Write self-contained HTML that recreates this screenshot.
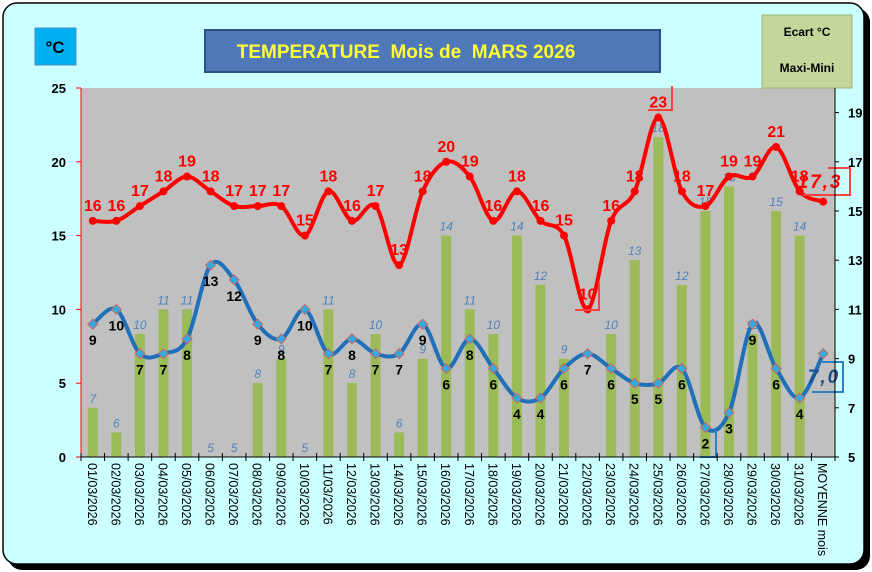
<!DOCTYPE html>
<html><head><meta charset="utf-8"><style>
body{margin:0;background:#fff;}
svg{display:block;font-family:"Liberation Sans",sans-serif;}
</style></head><body>
<svg id="s" width="872" height="572" xmlns="http://www.w3.org/2000/svg">
<rect x="8" y="8" width="862" height="562" rx="14" fill="#000"/>
<rect x="3" y="3" width="861" height="561" rx="14" fill="#ccffff" stroke="#000" stroke-width="1.5"/>
<rect x="81" y="88" width="754" height="369" fill="#c0c0c0"/>
<rect x="35" y="28" width="41" height="37" fill="#00b0f0" stroke="#4a90c0"/>
<text x="55" y="53" font-size="17" font-weight="bold" text-anchor="middle">°C</text>
<rect x="205" y="30" width="455" height="42" fill="#4f78b8" stroke="#2f4f80" stroke-width="2"/>
<text x="406" y="58" font-size="19" font-weight="bold" fill="#ffff33" text-anchor="middle">TEMPERATURE&#160; Mois de&#160; MARS 2026</text>
<rect x="762" y="15" width="90" height="73" fill="#c4d79b" stroke="#a0b070"/>
<text x="807" y="36" font-size="12" font-weight="bold" text-anchor="middle">Ecart °C</text>
<text x="807" y="72" font-size="12" font-weight="bold" text-anchor="middle">Maxi-Mini</text>
<g id="g"></g>
</svg>
<script>
var g=document.getElementById('g'),h='';
var mx=[16,16,17,18,19,18,17,17,17,15,18,16,17,13,18,20,19,16,18,16,15,10,16,18,23,18,17,19,19,21,18,17.3];
var mn=[9,10,7,7,8,13,12,9,8,10,7,8,7,7,9,6,8,6,4,4,6,7,6,5,5,6,2,3,9,6,4,7.0];
var L=81,R=835,B=457,T=88,w=(R-L)/32;
function X(i){return L+w*(i+0.5);}
function YL(v){return B-v*(B-T)/25;}
function YR(v){return B-(v-5)*(B-T)/15;}
for(var i=0;i<31;i++){var e=mx[i]-mn[i];if(e>5){h+='<rect x="'+(X(i)-5)+'" y="'+YR(e)+'" width="10" height="'+(B-YR(e))+'" fill="#9bbb59"/>';}
 if(e>=5) h+='<text x="'+X(i)+'" y="'+(YR(e)-5)+'" font-size="12" font-style="italic" fill="#4f81bd" text-anchor="middle">'+e+'</text>';}
function path(a){var p=a.map(function(v,i){return [X(i),YL(v)];});var d='M'+p[0][0]+','+p[0][1];
 for(var i=0;i<p.length-1;i++){var p0=p[Math.max(i-1,0)],p1=p[i],p2=p[i+1],p3=p[Math.min(i+2,p.length-1)];
 d+=' C'+(p1[0]+(p2[0]-p0[0])/6)+','+(p1[1]+(p2[1]-p0[1])/6)+' '+(p2[0]-(p3[0]-p1[0])/6)+','+(p2[1]-(p3[1]-p1[1])/6)+' '+p2[0]+','+p2[1];}return d;}
h+='<path d="'+path(mx)+'" fill="none" stroke="#ff0000" stroke-width="4"/>';
h+='<path d="'+path(mn)+'" fill="none" stroke="#1f70b8" stroke-width="4"/>';
for(var i=0;i<32;i++){h+='<circle cx="'+X(i)+'" cy="'+YL(mx[i])+'" r="4" fill="#ff0000"/>';
 h+='<rect x="'+(X(i)-3.5)+'" y="'+(YL(mn[i])-3.5)+'" width="7" height="7" fill="#33aadd" stroke="#cc6666" transform="rotate(45 '+X(i)+' '+YL(mn[i])+')"/>';}
for(var i=0;i<31;i++){h+='<text x="'+X(i)+'" y="'+(YL(mx[i])-10)+'" font-size="16" font-weight="bold" fill="#ff0000" text-anchor="middle">'+mx[i]+'</text>';
 h+='<text x="'+X(i)+'" y="'+(YL(mn[i])+21)+'" font-size="14" font-weight="bold" fill="#000" text-anchor="middle">'+mn[i]+'</text>';}
h+='<path d="M828,168 L850,168 L850,195 L803,195" fill="none" stroke="#ff4040" stroke-width="2"/>';
h+='<text x="820" y="188" font-size="19" font-weight="bold" font-style="italic" fill="#ff0000" text-anchor="middle" letter-spacing="2">17,3</text>';
h+='<path d="M822,362 L843,362 L843,392 L812,392" fill="none" stroke="#2f80c0" stroke-width="2"/>';
h+='<text x="824" y="383" font-size="19" font-weight="bold" font-style="italic" fill="#1f4f8f" text-anchor="middle" letter-spacing="2">7,0</text>';
h+='<path d="M672,86 L672,110 L648,110" fill="none" stroke="#ff4040" stroke-width="2"/>';
h+='<path d="M599,282 L599,310 L575,310" fill="none" stroke="#ff4040" stroke-width="2"/>';
h+='<path d="M716,430 L716,457 L700,457" fill="none" stroke="#2f80c0" stroke-width="2"/>';
h+='<line x1="'+L+'" y1="'+T+'" x2="'+L+'" y2="'+B+'" stroke="#ff0000"/>';
for(var v=0;v<=25;v+=5){var y=YL(v);h+='<line x1="'+(L-5)+'" y1="'+y+'" x2="'+L+'" y2="'+y+'" stroke="#ff0000"/><text x="'+(L-15)+'" y="'+(y+5)+'" font-size="13" font-weight="bold" text-anchor="end">'+v+'</text>';}
h+='<line x1="'+R+'" y1="'+T+'" x2="'+R+'" y2="'+B+'" stroke="#000"/>';
for(var v=5;v<=19;v+=2){var y=YR(v);h+='<line x1="'+R+'" y1="'+y+'" x2="'+(R+4)+'" y2="'+y+'" stroke="#000"/><text x="'+(R+13)+'" y="'+(y+5)+'" font-size="13" font-weight="bold">'+v+'</text>';}
h+='<line x1="'+L+'" y1="'+B+'" x2="'+R+'" y2="'+B+'" stroke="#000"/>';
for(var i=0;i<=32;i++){var x=L+w*i;h+='<line x1="'+x+'" y1="'+(B-4)+'" x2="'+x+'" y2="'+(B+4)+'" stroke="#000"/>';}
for(var i=0;i<32;i++){var t=i<31?((i<9?'0':'')+(i+1)+'/03/2026'):'MOYENNE mois';
 h+='<text transform="translate('+(X(i)-5)+','+(B+6)+') rotate(90)" font-size="12.5" fill="#000">'+t+'</text>';}
g.innerHTML=h;
</script>
</body></html>
